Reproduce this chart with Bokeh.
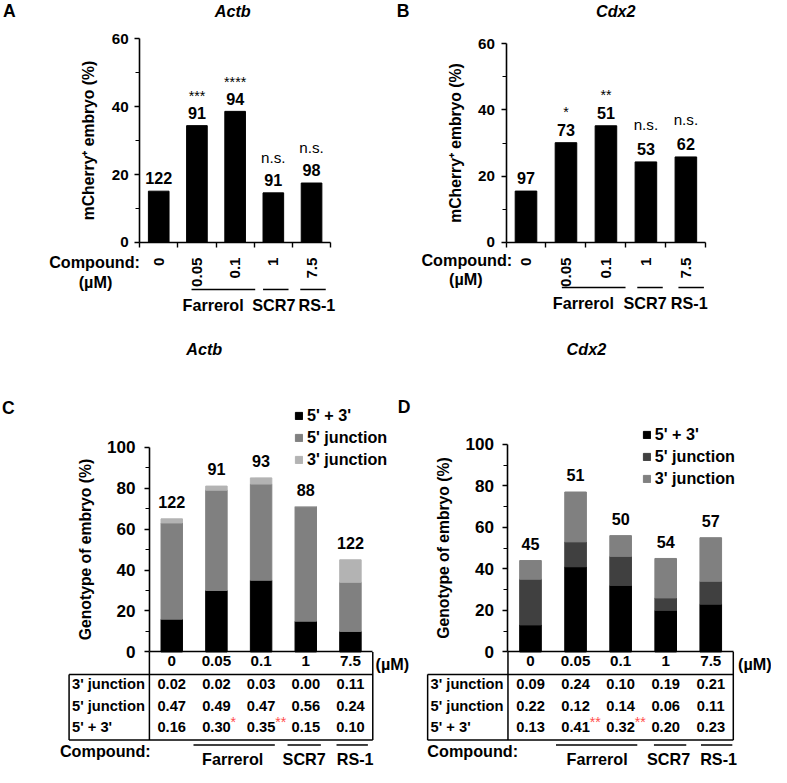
import math
from bokeh.plotting import figure
from bokeh.models import Range1d, LinearAxis, FixedTicker, ColumnDataSource, Legend, LegendItem
from bokeh.core.properties import value
from bokeh.embed import file_html
from bokeh.resources import INLINE

# ---------------- data ----------------
conc_labels = ["0", "0.05", "0.1", "1", "7.5"]
compounds = ["Farrerol", "SCR7", "RS-1"]
genes = ["Actb", "Cdx2"]

# Panel A (Actb, mCherry+ embryo %)
a_pct = [15.1, 34.4, 38.6, 14.6, 17.5]
a_n = ["122", "91", "94", "91", "98"]
a_sig = ["", "***", "****", "n.s.", "n.s."]

# Panel B (Cdx2, mCherry+ embryo %)
b_pct = [15.5, 30.1, 35.2, 24.3, 25.8]
b_n = ["97", "73", "51", "53", "62"]
b_sig = ["", "*", "**", "n.s.", "n.s."]

# Panel C (Actb genotype fractions)
c_both = [0.16, 0.30, 0.35, 0.15, 0.10]
c_five = [0.47, 0.49, 0.47, 0.56, 0.24]
c_three = [0.02, 0.02, 0.03, 0.00, 0.11]
c_n = ["122", "91", "93", "88", "122"]
c_star = ["", "*", "**", "", ""]

# Panel D (Cdx2 genotype fractions)
d_both = [0.13, 0.41, 0.32, 0.20, 0.23]
d_five = [0.22, 0.12, 0.14, 0.06, 0.11]
d_three = [0.09, 0.24, 0.10, 0.19, 0.21]
d_n = ["45", "51", "50", "54", "57"]
d_star = ["", "**", "**", "", ""]

row_names = ["3' junction", "5' junction", "5' + 3'"]
legend_names = ["5' + 3'", "5' junction", "3' junction"]

# ---------------- layout ----------------
FONT = "Liberation Sans"
W_REF, H_REF = 787, 783
W, H = 771, 767
S = W / W_REF

# reference-pixel geometry: x of category 0, px per category, y of zero, px per unit
GEOM = {
    "A": (161.5, 39.0, 247.0, 208.0 / 60),
    "B": (536.4, 40.8, 247.0, 203.0 / 60),
    "C": (174.8, 45.6, 665.0, 209.0 / 100),
    "D": (541.0, 46.0, 665.0, 212.0 / 100),
}


def X(k, px):
    x0, dx, _, _ = GEOM[k]
    return (px - x0) / dx


def Y(k, py):
    _, _, y0, dy = GEOM[k]
    return (y0 - py) / dy


def fs(px):
    return f"{px * S:.1f}px"


xr = {k: Range1d(X(k, 0), X(k, W_REF)) for k in GEOM}
yr = {k: Range1d(Y(k, H_REF), Y(k, 0)) for k in GEOM}


def rn(k):
    return "default" if k == "A" else k


def kw(k):
    return dict(x_range_name=rn(k), y_range_name=rn(k))


p = figure(width=W, height=H, x_range=xr["A"], y_range=yr["A"], title=None,
           x_axis_type=None, y_axis_type=None, toolbar_location=None,
           output_backend="svg", min_border=0, outline_line_color=None,
           background_fill_color="white", border_fill_color="white")
p.extra_x_ranges = {k: xr[k] for k in "BCD"}
p.extra_y_ranges = {k: yr[k] for k in "BCD"}

cats = list(range(len(conc_labels)))
bounds_x = (cats[0] - 0.5, cats[-1] + 0.5)


def put(k, xs, ys, texts, size, style="bold", color="black", align="center",
        baseline="middle", xo=0, yo=0, angle=0):
    p.text(x=xs, y=ys, text=texts, text_font=value(FONT), text_font_size=value(fs(size)),
           text_font_style=value(style), text_color=color, text_align=align,
           text_baseline=baseline, x_offset=xo * S, y_offset=yo * S, angle=angle, **kw(k))


def seg(k, x0, y0, x1, y1, width=1.5):
    p.segment(x0=x0, y0=y0, x1=x1, y1=y1, line_color="black", line_width=width, **kw(k))


def y_axis(k, top, step, label, tick_size, standoff, label_standoff):
    ax = LinearAxis(fixed_location=bounds_x[0], bounds=(0, top),
                    ticker=FixedTicker(ticks=list(range(0, top + 1, step)),
                                       minor_ticks=list(range(step // 2, top, step))),
                    axis_label=label, axis_label_text_font=FONT,
                    axis_label_text_font_style="bold", axis_label_text_font_size=fs(16),
                    axis_label_text_color="black", axis_label_standoff=label_standoff,
                    major_label_text_font=FONT, major_label_text_font_style="bold",
                    major_label_text_font_size=fs(tick_size), major_label_text_color="black",
                    major_label_standoff=standoff,
                    major_tick_out=5, major_tick_in=0, minor_tick_out=4, minor_tick_in=0,
                    axis_line_width=1.6, major_tick_line_width=1.4, minor_tick_line_width=1.2,
                    **kw(k))
    p.add_layout(ax, "left")


def x_axis(k, vertical):
    ax = LinearAxis(fixed_location=0, bounds=bounds_x,
                    ticker=FixedTicker(ticks=cats,
                                       minor_ticks=[c - 0.5 for c in cats] + [bounds_x[1]] if vertical else []),
                    major_label_overrides={c: lab for c, lab in zip(cats, conc_labels)},
                    major_label_orientation=math.pi / 2 if vertical else "horizontal",
                    major_label_text_font=FONT, major_label_text_font_style="bold",
                    major_label_text_font_size=fs(15.5), major_label_text_color="black",
                    major_label_standoff=10 if vertical else 4,
                    major_tick_out=0, major_tick_in=0, minor_tick_out=5, minor_tick_in=0,
                    axis_line_width=1.6, minor_tick_line_width=1.4, **kw(k))
    p.add_layout(ax, "below")


# ---------------- panels A and B ----------------
top_panels = [
    ("A", a_pct, a_n, a_sig, genes[0], (9, 11), 237, (13, 17, 23),
     dict(comp=(96, 267), um=(97, 287), line_y=295, lab_y=311,
          lines=[(195, 260), (268, 294), (306, 332)], labs=[217, 279, 323])),
    ("B", b_pct, b_n, b_sig, genes[1], (411, 11), 628, (13, 18, 25),
     dict(comp=(476, 265), um=(475, 284), line_y=293, lab_y=309,
          lines=[(573, 638), (650, 676), (692, 718)], labs=[595, 658, 703])),
]

for k, pct, ns, sig, gene, letter, gx, gaps, lay in top_panels:
    put(k, [X(k, letter[0])], [Y(k, letter[1])], [k], 18)
    put(k, [X(k, gx)], [Y(k, 11)], [gene], 16.5, style="bold italic")
    p.vbar(x=cats, top=pct, width=0.54, fill_color="black", line_color="black", **kw(k))
    y_axis(k, 60, 20, "mCherry\u207a embryo (%)", 15.5, 6, 12)
    x_axis(k, True)
    g_num, g_star, g_ns = gaps
    put(k, cats, pct, ns, 16.5, baseline="alphabetic", yo=-g_num)
    st_i = [i for i, s in enumerate(sig) if s.startswith("*")]
    ns_i = [i for i, s in enumerate(sig) if s and not s.startswith("*")]
    put(k, st_i, [pct[i] for i in st_i], [sig[i] for i in st_i], 14.5, style="normal",
        baseline="alphabetic", yo=-(g_num + g_star))
    put(k, ns_i, [pct[i] for i in ns_i], [sig[i] for i in ns_i], 15.5, style="normal",
        baseline="alphabetic", yo=-(g_num + g_ns))
    put(k, [X(k, lay["comp"][0])], [Y(k, lay["comp"][1])], ["Compound:"], 16.5)
    put(k, [X(k, lay["um"][0])], [Y(k, lay["um"][1])], ["(\u00b5M)"], 16.5)
    yl = Y(k, lay["line_y"])
    seg(k, [X(k, a) for a, b in lay["lines"]], [yl] * 3, [X(k, b) for a, b in lay["lines"]], [yl] * 3)
    put(k, [X(k, c) for c in lay["labs"]], [Y(k, lay["lab_y"])] * 3, compounds, 16.5)

# ---------------- panels C and D ----------------
bot_panels = [
    ("C", c_both, c_five, c_three, c_n, c_star, genes[0], (8, 416), (208, 356),
     ["#000000", "#808080", "#b3b3b3"], 70, (300, 414),
     dict(comp=(107, 766), um=(400, 677), line_y=760, lab_y=774,
          lines=[(197, 280), (293, 327), (343, 375)], labs=[237, 310, 362])),
    ("D", d_both, d_five, d_three, d_n, d_star, genes[1], (412, 415), (598, 356),
     ["#000000", "#404040", "#808080"], 436, (655, 434),
     dict(comp=(482, 766), um=(770, 677), line_y=760, lab_y=774,
          lines=[(567, 650), (667, 700), (715, 747)], labs=[609, 682, 733])),
]

ROW_Y = [698, 720, 742]
TABLE_TOP, TABLE_BOT = 688, 755

for k, both, five, three, ns, stars, gene, letter, gpos, colors, tleft, legpos, lay in bot_panels:
    put(k, [X(k, letter[0])], [Y(k, letter[1])], [k], 18)
    put(k, [X(k, gpos[0])], [Y(k, gpos[1])], [gene], 16.5, style="bold italic")
    src = ColumnDataSource(dict(x=cats, both=[v * 100 for v in both],
                                five=[v * 100 for v in five], three=[v * 100 for v in three]))
    rs = p.vbar_stack(["both", "five", "three"], x="x", width=0.48, color=colors,
                      source=src, **kw(k))
    y_axis(k, 100, 20, "Genotype of embryo (%)", 17.5, 9, 10)
    x_axis(k, False)
    totals = [(a + b + c) * 100 for a, b, c in zip(both, five, three)]
    put(k, cats, totals, ns, 16.5, baseline="alphabetic", yo=-17)

    # table
    left, sep, right = X(k, tleft), bounds_x[0], bounds_x[1]
    yrow, ybot = Y(k, TABLE_TOP), Y(k, TABLE_BOT)
    seg(k, [sep, right, left, left, left], [0, 0, yrow, ybot, yrow],
        [sep, right, right, right, left], [ybot, ybot, yrow, ybot, ybot])
    for name, vals, ry in zip(row_names, [three, five, both], ROW_Y):
        put(k, [X(k, tleft + 3)], [Y(k, ry)], [name], 15, align="left")
        put(k, cats, [Y(k, ry)] * len(cats), [f"{v:.2f}" for v in vals], 15)
    st_i = [i for i, s in enumerate(stars) if s]
    put(k, st_i, [Y(k, ROW_Y[2])] * len(st_i), [stars[i] for i in st_i], 14.5,
        style="normal", color="#ff4d4d", align="left", xo=14.5, yo=-5)

    put(k, [X(k, lay["um"][0])], [Y(k, lay["um"][1])], ["(\u00b5M)"], 16.5)
    put(k, [X(k, lay["comp"][0])], [Y(k, lay["comp"][1])], ["Compound:"], 16.5)
    yl = Y(k, lay["line_y"])
    seg(k, [X(k, a) for a, b in lay["lines"]], [yl] * 3, [X(k, b) for a, b in lay["lines"]], [yl] * 3)
    put(k, [X(k, c) for c in lay["labs"]], [Y(k, lay["lab_y"])] * 3, compounds, 16.5)

    legend = Legend(items=[LegendItem(label=n, renderers=[r]) for n, r in zip(legend_names, rs)],
                    location=(legpos[0] * S, H - legpos[1] * S - 63),
                    orientation="vertical", label_text_font=FONT,
                    label_text_font_style="bold", label_text_font_size=fs(16.5),
                    label_text_color="black",
                    glyph_width=9, glyph_height=9, label_height=19, label_standoff=4,
                    spacing=3, padding=0, margin=0, border_line_color=None,
                    background_fill_alpha=0)
    p.add_layout(legend, "center")

open("out.html", "w").write(file_html(p, INLINE))
